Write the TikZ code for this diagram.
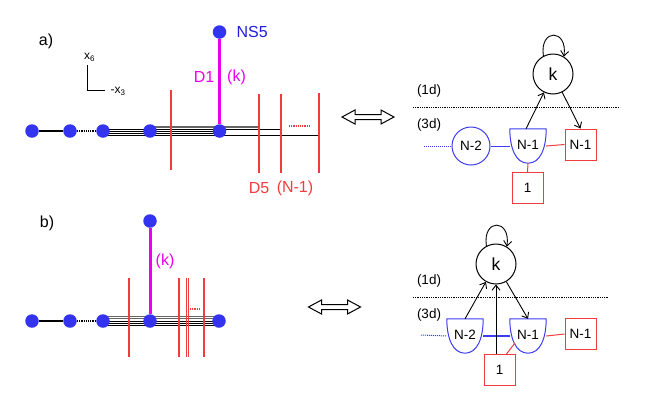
\documentclass[tikz,border=0pt]{standalone}
\usepackage{fontspec}
\setmainfont{Liberation Sans}
\usetikzlibrary{arrows.meta,calc}
\definecolor{dotblue}{RGB}{51,51,240}
\definecolor{gblue}{RGB}{60,60,240}
\definecolor{bred}{RGB}{240,60,60}
\definecolor{mag}{RGB}{235,0,235}
\definecolor{nsblue}{RGB}{30,30,220}
\pgfdeclarelayer{bg}
\pgfsetlayers{bg,main}
\tikzset{
 dot/.style={circle,fill=dotblue,inner sep=0pt,minimum size=13.5pt},
 brane/.style={draw=bred,line width=1.2pt},
 thinbrane/.style={draw=bred,line width=0.8pt},
 dsix/.style={draw=mag,line width=3pt},
 bundle/.style={line width=0.8pt},
 graybundle/.style={line width=1pt,black!60},
 lab/.style={font=\fontsize{16}{18}\selectfont},
 glab/.style={font=\fontsize{13.5}{15}\selectfont},
 axlab/.style={anchor=base west,inner sep=0pt,font=\fontsize{12}{13}\selectfont},
 rbox/.style={draw=bred,line width=1pt,minimum size=31pt,inner sep=0pt,glab},
 gcirc/.style={circle,draw=gblue,line width=1pt,minimum size=38pt,inner sep=0pt,glab},
 cup/.style={minimum width=36pt,minimum height=34pt,inner sep=0pt,glab},
 knode/.style={circle,draw,line width=1pt,minimum size=40pt,inner sep=0pt,font=\fontsize{17.5}{19}\selectfont},
 arr/.style={-{Straight Barb[length=5pt,width=8pt]},line width=0.9pt},
 sep/.style={densely dotted,line width=0.8pt},
 dbl/.style={draw,line width=1pt,fill=white},
 bline/.style={gblue,line width=1pt},
 bdots/.style={gblue,densely dotted,line width=1pt},
 rline/.style={bred,line width=1pt},
}
\newcommand\cupshape[1]{\draw[gblue,line width=1pt] (#1.north west) -- (#1.north east) .. controls +(0,20) and +(12,0) .. (#1.south) .. controls +(-12,0) and +(0,20) .. (#1.north west) -- cycle;}
\newcommand\dblarrow[1]{\draw[dbl] ($(#1)+(-26,0)$) -- ++(13,-7) -- ++(0,4.5) -- ++(26,0) -- ++(0,-4.5) -- ++(13,7) -- ++(-13,7) -- ++(0,-4.5) -- ++(-26,0) -- ++(0,4.5) -- cycle;}
\begin{document}
\begin{tikzpicture}[x=1pt,y=-1pt]
\useasboundingbox (0,0) rectangle (661,413);
% ---------------- panel a, left
\node[lab,anchor=center] (la) at (46,41) {a)};
\node[dot] (a1) at (32,131) {};
\node[dot] (a2) at (70,131) {};
\node[dot] (a3) at (103,131) {};
\node[dot] (a4) at (150,131) {};
\node[dot] (a5) at (219.5,131) {};
\node[dot] (ans) at (219.5,32) {};
\node[lab,text=nsblue,anchor=west] (nslab) at (233,32) {NS5};
\node[lab,text=mag] (d1lab) at (204,77) {D1};
\node[lab,text=mag] (klab) at (236.5,77) {(k)};
\node[lab,text=bred] (d5lab) at (259,188) {D5};
\node[lab,text=bred] (nlab) at (295,188) {(N-1)};
% axes
\coordinate (axo) at (87.5,90.5);
\coordinate (axt) at (87.5,65);
\coordinate (axr) at (105,90.5);
\draw[line width=0.8pt] (axt) -- (axo) -- (axr);
\node[axlab] (x6) at (84,59.5) {x\textsubscript{6}};
\node[axlab] (x3) at (110.5,93.5) {-x\textsubscript{3}};
\begin{pgfonlayer}{bg}
\draw[line width=1.2pt] (a1) -- (a2);
\draw[densely dotted,line width=1.2pt] (a2) -- (a3);
\draw[graybundle] ([yshift=5pt]a4.center) -- ++(109,0);
\draw[graybundle] ([yshift=3.2pt]a4.center) -- ++(109,0);
\draw[bundle] ([yshift=1.5pt]a3.center) -- ++(177,0);
\draw[bundle] ([yshift=-0.3pt]a3.center) -- ++(116.5,0);
\draw[bundle] ([yshift=-2.1pt]a3.center) -- ++(116.5,0);
\draw[bundle] ([yshift=-4pt]a3.center) -- ++(216,0);
\draw[brane] (171,90) -- (171,170);
\draw[brane] (259,94) -- (259,173);
\draw[brane] (281,94) -- (281,173);
\draw[brane] (319,93) -- (319,173);
\draw[bred,densely dotted,line width=1.2pt] (289,126) -- (310,126);
\draw[dsix] (ans) -- (a5);
\end{pgfonlayer}
% ---------------- panel b, left
\node[lab] (lb) at (47,223) {b)};
\node[dot] (b1) at (32,321) {};
\node[dot] (b2) at (70,321) {};
\node[dot] (b3) at (103,321) {};
\node[dot] (b4) at (150,321) {};
\node[dot] (b5) at (219,321) {};
\node[dot] (bns) at (150,221) {};
\node[lab,text=mag] (kblab) at (165,261) {(k)};
\begin{pgfonlayer}{bg}
\draw[line width=1.2pt] (b1) -- (b2);
\draw[densely dotted,line width=1.2pt] (b2) -- (b3);
\draw[graybundle] ([yshift=4.2pt]b3.center) -- ++(116,0);
\draw[graybundle] ([yshift=2.1pt]b3.center) -- ++(116,0);
\draw[bundle] (b3.center) -- ++(116,0);
\draw[bundle] ([yshift=-2.1pt]b3.center) -- ++(116,0);
\draw[bundle] ([yshift=-4.2pt]b3.center) -- ++(116,0);
\draw[brane] (129,278) -- (129,357);
\draw[brane] (179,278) -- (179,357);
\draw[thinbrane] (186.2,278) -- (186.2,357);
\draw[thinbrane] (188.6,278) -- (188.6,357);
\draw[brane] (204,278) -- (204,357);
\draw[bred,densely dotted,line width=1.2pt] (190,309) -- (200,309);
\draw[dsix] (bns) -- (b4);
\end{pgfonlayer}
% ---------------- double arrows
\coordinate (daa) at (368,117);
\coordinate (dab) at (334.5,307);
\dblarrow{daa}
\dblarrow{dab}
% ---------------- panel a, right
\node[knode] (ka) at (553,74) {k};
\node[glab] (l1a) at (429,91) {(1d)};
\node[glab] (l3a) at (429,125) {(3d)};
\coordinate (s1l) at (413,107);
\coordinate (s1r) at (620,107);
\draw[sep] (s1l) -- (s1r);
\node[gcirc] (g2a) at (471,146) {N-2};
\node[cup] (c1a) at (528,146) {\raisebox{3pt}{N-1}};
\cupshape{c1a}
\node[rbox] (ra) at (580.5,144.5) {N-1};
\node[rbox] (r1a) at (527.5,188) {1};
\coordinate (ta) at (424,146);
\draw[bdots] (ta) -- (g2a);
\draw[bline] (g2a) -- (c1a.west);
\draw[rline] (c1a.east) -- (ra.west);
\draw[rline] (c1a.south) -- (r1a.north);
\draw[arr] ([xshift=-2pt]c1a.north) -- (ka);
\draw[arr] (ka) -- (ra.north);
\draw[arr] (ka.118) .. controls +(-4,-28) and +(4,-28) .. (ka.58);
% ---------------- panel b, right
\node[knode] (kb) at (496,264) {k};
\node[glab] (l1b) at (429,281) {(1d)};
\node[glab] (l3b) at (429,315) {(3d)};
\coordinate (s2l) at (413,297);
\coordinate (s2r) at (609,297);
\draw[sep] (s2l) -- (s2r);
\node[cup] (c2b) at (465,336) {\raisebox{3pt}{N-2}};
\cupshape{c2b}
\node[cup] (c1b) at (528,336) {\raisebox{3pt}{N-1}};
\cupshape{c1b}
\node[rbox] (rb) at (580.5,334) {N-1};
\node[rbox] (r1b) at (499.5,370) {1};
\coordinate (tb) at (421,335);
\draw[bdots] (tb) -- (c2b.west);
\draw[gblue,line width=1.8pt] (c2b.east) -- (c1b.west);
\draw[rline] (c1b.east) -- (rb.west);
\draw[rline] ([xshift=7pt]r1b.north) -- ($(c1b.center)+(-13,7)$);
\draw[arr] ([xshift=-3.5pt]r1b.north) -- (kb.south);
\draw[arr] (c2b.north) -- (kb);
\draw[arr] (kb) -- (c1b.north);
\draw[arr] (kb.118) .. controls +(-4,-28) and +(4,-28) .. (kb.58);
\end{tikzpicture}
\end{document}
